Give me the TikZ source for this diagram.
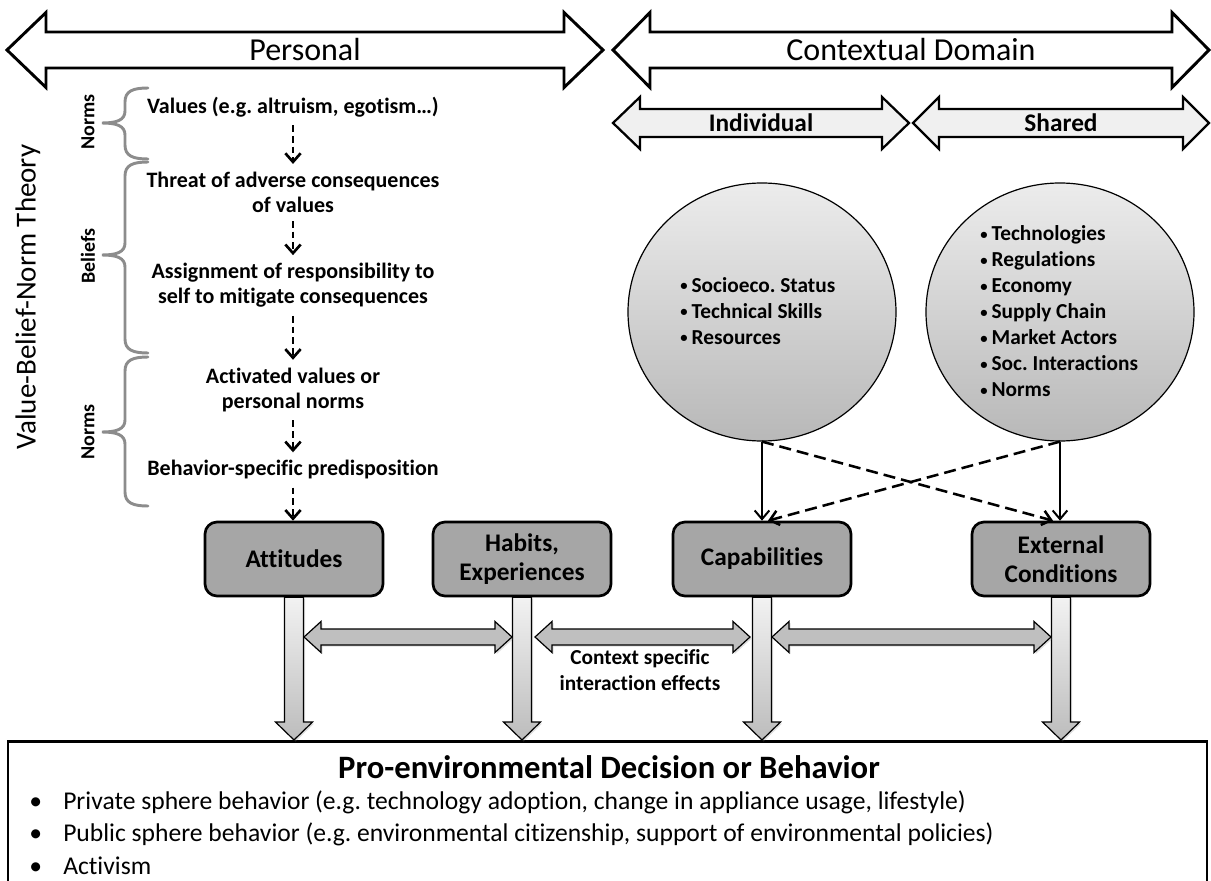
\documentclass[tikz,border=0pt]{standalone}
\usepackage{fontspec}
\setmainfont{Carlito}[Ligatures={NoCommon,NoContextual},Contextuals=NoAlternate]
\usetikzlibrary{arrows.meta,shapes.geometric,calc,shadows}
\definecolor{boxgray}{RGB}{166,166,166}
\definecolor{hargray}{RGB}{191,191,191}
\definecolor{shaftlight}{RGB}{242,242,242}
\definecolor{shaftdark}{RGB}{188,188,188}
\definecolor{circtop}{RGB}{236,236,236}
\definecolor{circbot}{RGB}{184,184,184}
\definecolor{bracegray}{RGB}{140,140,140}
\definecolor{lightfill}{RGB}{240,240,240}
\frenchspacing
\newcommand\sbul{\makebox[8.5pt][l]{\raisebox{1.3pt}{\fontsize{11}{11}\selectfont•}}}
% horizontal double block arrow between two x-reference coordinates at image row #3
\newcommand\HDouble[3]{%
 \path[hdbl] let \p1=(#1), \p2=(#2), \p3=(0,#3), \p4=(17,15.5), \p5=(0,8) in
  (\x1,\y3) -- (\x1+\x4,\y3+\y4) -- (\x1+\x4,\y3+\y5) -- (\x2-\x4,\y3+\y5) -- (\x2-\x4,\y3+\y4) -- (\x2,\y3)
  -- (\x2-\x4,\y3-\y4) -- (\x2-\x4,\y3-\y5) -- (\x1+\x4,\y3-\y5) -- (\x1+\x4,\y3-\y4) -- cycle;}
% downward block arrow from node #1 to node #2
\newcommand\DownArr[2]{%
 \path[dnarr] let \p1=(#1.south), \p2=(#2.north), \p3=(9.5,18), \p4=(18.5,0) in
  (\x1-\x3,\y1) -- (\x1+\x3,\y1) -- (\x1+\x3,\y2-\y3) -- (\x1+\x4,\y2-\y3) -- (\x1,\y2)
  -- (\x1-\x4,\y2-\y3) -- (\x1-\x3,\y2-\y3) -- cycle;}
% big double arrow shape: style, x1, x2, yc, shaft half, head half, head length
\newcommand\BigDouble[7]{%
 \path[#1] (#2,#4) -- ({#2+#7},{#4-#6}) -- ({#2+#7},{#4-#5}) -- ({#3-#7},{#4-#5}) -- ({#3-#7},{#4-#6}) -- (#3,#4)
  -- ({#3-#7},{#4+#6}) -- ({#3-#7},{#4+#5}) -- ({#2+#7},{#4+#5}) -- ({#2+#7},{#4+#6}) -- cycle;}
% curly brace: top, tip, bottom
\newcommand\VBrace[3]{%
 \draw[bracestyle] (148,#1) .. controls (133,#1) and (125,{#1+3}) .. (125,{#1+14}) -- (125,{#2-12})
  .. controls (125,{#2-3}) and (117,#2) .. (102,#2) .. controls (117,#2) and (125,{#2+3}) .. (125,{#2+12})
  -- (125,{#3-14}) .. controls (125,{#3-3}) and (133,#3) .. (148,#3);}
\begin{document}
\begin{tikzpicture}[x=0.75pt,y=-0.75pt,
 bigarr/.style={draw=black,line width=2.2pt,fill=white},
 subarr/.style={draw=black,line width=1.7pt,fill=lightfill},
 hdbl/.style={draw=black,line width=0.9pt,fill=hargray,drop shadow={opacity=0.25,shadow xshift=1.2pt,shadow yshift=-1.2pt}},
 dnarr/.style={draw=black,line width=0.9pt,top color=shaftlight,bottom color=shaftdark,drop shadow={opacity=0.25,shadow xshift=1.2pt,shadow yshift=-1.2pt}},
 bracestyle/.style={draw=bracegray,line width=2.2pt,line cap=round},
 domtext/.style={font=\fontsize{24}{28}\selectfont,inner sep=0pt},
 subtext/.style={font=\bfseries\fontsize{19}{22}\selectfont,inner sep=0pt},
 bracelabel/.style={rotate=90,font=\bfseries\fontsize{15}{18}\selectfont,inner sep=0pt},
 vbntext/.style={font=\bfseries\fontsize{16.5}{18.75}\selectfont,align=center,inner sep=0pt},
 dasharr/.style={draw=black,line width=2pt,dash pattern=on 5pt off 3pt,-{Straight Barb[length=6.5pt,width=11.5pt]},shorten <=6pt,shorten >=6pt},
 solidarr/.style={draw=black,line width=1.5pt,-{Straight Barb[length=6.5pt,width=11pt]}},
 crossarr/.style={draw=black,line width=1.9pt,dash pattern=on 9pt off 4.5pt,-{Straight Barb[length=6.5pt,width=11pt]}},
 factor/.style={draw=black,line width=2pt,fill=boxgray,rounded corners=9pt,minimum width=133.5pt,minimum height=55.5pt,align=center,inner sep=0pt,font=\bfseries\fontsize{19}{21.75}\selectfont},
 circ/.style={ellipse,draw=black,line width=0.9pt,top color=circtop,bottom color=circbot,minimum width=201pt,minimum height=193.5pt,inner sep=0pt},
 listtext/.style={font=\bfseries\fontsize{16}{19.5}\selectfont,align=left,inner sep=0pt},
 bultext/.style={font=\fontsize{19.2}{23}\selectfont,inner sep=0pt,anchor=west}
]
\useasboundingbox (0,0) rectangle (1211,881);

% top domain arrows
\BigDouble{bigarr}{7}{603}{50}{18}{37.5}{39}
\BigDouble{bigarr}{613}{1209}{50}{18}{37.5}{37}
\BigDouble{subarr}{613}{909}{123}{14}{26}{27}
\BigDouble{subarr}{913}{1209}{123}{14}{26}{26}
\node[domtext] (personal) at (305,50) {Personal};
\node[domtext] (contextual) at (911,50) {Contextual Domain};
\node[subtext] (individual) at (761,123) {Individual};
\node[subtext] (shared) at (1061,123) {Shared};

% value-belief-norm side
\node[rotate=90,font=\fontsize{21.75}{26}\selectfont,inner sep=0pt] (vbn) at (28,297) {Value-Belief-Norm Theory};
\VBrace{88}{123}{159}
\VBrace{162}{255}{353}
\VBrace{357}{432}{506}
\node[bracelabel] (lnorms1) at (88,122) {Norms};
\node[bracelabel] (lbeliefs) at (88,256) {Beliefs};
\node[bracelabel] (lnorms2) at (88,432) {Norms};

\node[vbntext] (values) at (293,107) {Values (e.g. altruism, egotism…)};
\node[vbntext] (threat) at (293,192.5) {Threat of adverse consequences\\of values};
\node[vbntext] (assign) at (293,285.5) {Assignment of responsibility to\\self to mitigate consequences};
\node[vbntext] (activ) at (293,390) {Activated values or\\personal norms};
\node[vbntext] (behav) at (293,470) {Behavior-specific predisposition};

% factor boxes
\node[factor] (att) at (294,559) {Attitudes};
\node[factor] (hab) at (522,559) {Habits,\\Experiences};
\node[factor] (cap) at (762,559) {Capabilities};
\node[factor] (ext) at (1061,559) {External\\Conditions};

\draw[dasharr] (values) -- (threat);
\draw[dasharr] (threat) -- (assign);
\draw[dasharr] (assign) -- (activ);
\draw[dasharr] (activ) -- (behav);
\draw[dasharr,shorten >=0pt] (behav) -- (behav |- att.north);

% context circles
\node[circ] (indc) at (762,312) {};
\node[circ] (shrc) at (1060,312) {};
\node[listtext,anchor=west] (indlist) at (680,311) {\sbul Socioeco. Status\\\sbul Technical Skills\\\sbul Resources};
\node[listtext,anchor=west] (shrlist) at (980,311.5) {\sbul Technologies\\\sbul Regulations\\\sbul Economy\\\sbul Supply Chain\\\sbul Market Actors\\\sbul Soc. Interactions\\\sbul Norms};

\draw[solidarr] (indc.south) -- (cap.north);
\draw[solidarr] (shrc.south) -- (shrc.south |- ext.north);
\draw[crossarr] (indc.south) -- ([xshift=-6pt]ext.north);
\draw[crossarr] (shrc.south) -- ([xshift=4.5pt]cap.north);

% outcome box
\node[draw=black,line width=2.2pt,minimum width=899.25pt,minimum height=120pt,anchor=north,inner sep=0pt] (pro) at (607.5,740) {};
\node[font=\bfseries\fontsize{24.5}{28}\selectfont,inner sep=0pt] (title) at (609,767) {Pro-environmental Decision or Behavior};
\node[bultext] (b1) at (29,802) {\makebox[25.5pt][l]{•}Private sphere behavior (e.g. technology adoption, change in appliance usage, lifestyle)};
\node[bultext] (b2) at (29,834) {\makebox[25.5pt][l]{•}Public sphere behavior (e.g. environmental citizenship, support of environmental policies)};
\node[bultext] (b3) at (29,866) {\makebox[25.5pt][l]{•}Activism};

% block arrows
\DownArr{att}{pro}
\DownArr{hab}{pro}
\DownArr{cap}{pro}
\DownArr{ext}{pro}
\HDouble{$(att.south)+(10,0)$}{$(hab.south)+(-10,0)$}{637}
\HDouble{$(hab.south)+(13,0)$}{$(cap.south)+(-12,0)$}{637}
\HDouble{$(cap.south)+(10,0)$}{$(ext.south)+(-10,0)$}{637}
\node[font=\bfseries\fontsize{16}{19.5}\selectfont,align=center,inner sep=0pt] (ctx) at (640,670) {Context specific\\interaction effects};
\end{tikzpicture}
\end{document}
